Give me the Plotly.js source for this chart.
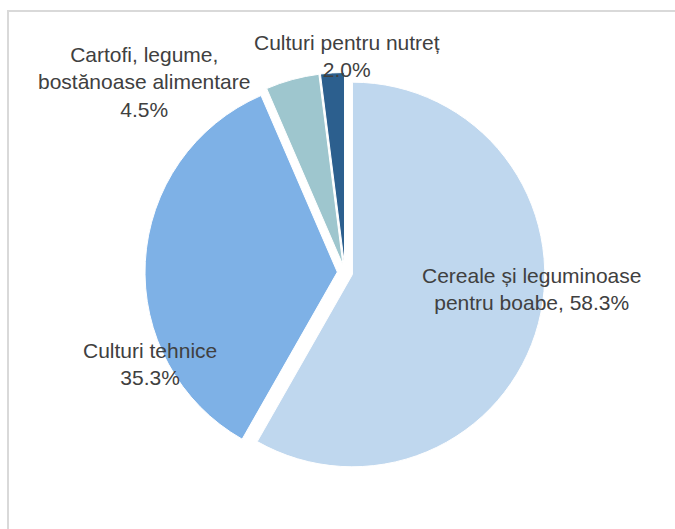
<!DOCTYPE html>
<html>
<head>
<meta charset="utf-8">
<script src="https://cdn.plot.ly/plotly-3.0.1.min.js"></script>
<style>
  html, body { margin: 0; padding: 0; width: 675px; height: 529px; overflow: hidden; background: #fff; }
  #chart { position: absolute; left: 0; top: 0; width: 675px; height: 529px; }
  #frame { position: absolute; left: 7px; top: 10px; width: 800px; height: 700px;
           border-left: 2px solid #d9d9d9; border-top: 2px solid #d9d9d9; pointer-events: none; }
</style>
</head>
<body>
<div id="chart"></div>
<div id="frame"></div>
<script>
const categories = [
  "Cereale și leguminoase<br>pentru boabe",
  "Culturi tehnice",
  "Cartofi, legume,<br>bostănoase alimentare",
  "Culturi pentru nutreț"
];
const values = [58.3, 35.3, 4.5, 2.0];
const colors = ["#bfd7ee", "#7eb1e6", "#9ec6ce", "#2c5f8e"];
const labelSeparators = [", ", "<br>", "<br>", "<br>"];

const W = 675, H = 529;
const px = (x) => x / W;
const py = (y) => 1 - y / H;

// label anchor positions (pixels, center of text block)
const labelPos = [
  [531, 289],
  [150, 364],
  [144, 82],
  [347, 56]
];

const trace = {
  type: "pie",
  values: values,
  labels: categories,
  sort: false,
  direction: "clockwise",
  rotation: 0,
  pull: [0.04, 0.04, 0.04, 0.04],
  marker: { colors: colors, line: { color: "#ffffff", width: 1 } },
  textinfo: "none",
  hoverinfo: "none",
  showlegend: false,
  domain: { x: [px(145), px(545)], y: [py(472.5), py(72.5)] }
};

const annotations = categories.map((c, i) => ({
  xref: "paper", yref: "paper",
  x: px(labelPos[i][0]), y: py(labelPos[i][1]),
  xanchor: "center", yanchor: "middle",
  text: c + labelSeparators[i] + values[i].toFixed(1) + "%",
  showarrow: false,
  align: "center",
  font: { family: "Liberation Sans Narrow, Arial Narrow, Liberation Sans, sans-serif", size: 21, color: "#404040" }
}));

const layout = {
  width: W, height: H,
  margin: { l: 0, r: 0, t: 0, b: 0 },
  paper_bgcolor: "#ffffff",
  annotations: annotations
};

Plotly.newPlot("chart", [trace], layout, { displayModeBar: false, staticPlot: true });
</script>
</body>
</html>
